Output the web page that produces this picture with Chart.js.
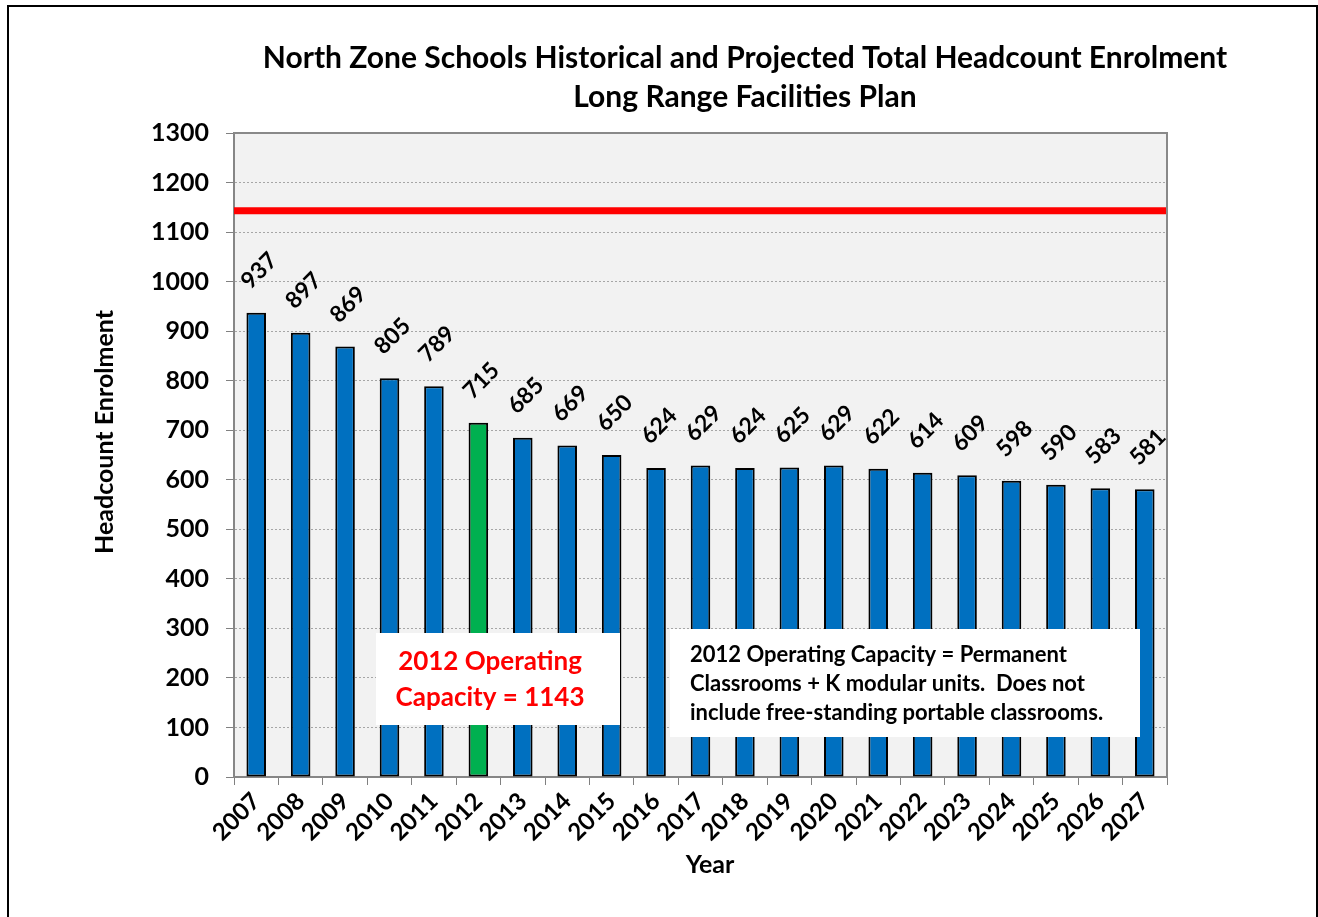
<!DOCTYPE html>
<html>
<head>
<meta charset="utf-8">
<script src="https://cdn.jsdelivr.net/npm/chart.js@4.4.1/dist/chart.umd.min.js"></script>
<style>
  body { margin: 0; background: #fff; }
  #wrap { width: 1318px; height: 917px; position: relative; }
</style>
</head>
<body>
<div id="wrap"><canvas id="chart" width="1318" height="917"></canvas></div>
<script>
const years = ["2007", "2008", "2009", "2010", "2011", "2012", "2013", "2014", "2015", "2016", "2017",
  "2018", "2019", "2020", "2021", "2022", "2023", "2024", "2025", "2026", "2027"];
const enrolment = [937, 897, 869, 805, 789, 715, 685, 669, 650, 624, 629,
  624, 625, 629, 622, 614, 609, 598, 590, 583, 581];
const capacity = 1143;
const highlightYear = "2012";
const titleLines = ["North Zone Schools Historical and Projected Total Headcount Enrolment", "Long Range Facilities Plan"];
const xTitle = "Year";
const yTitle = "Headcount Enrolment";
const capacityNote = ["2012 Operating", "Capacity = 1143"];
const capacityDef = ["2012 Operating Capacity = Permanent", "Classrooms + K modular units.  Does not", "include free-standing portable classrooms."];

const FONT = "Lato, 'Open Sans', sans-serif";
const chartDiv = document.getElementById("chart");

const barColors = years.map((y) => (y === highlightYear ? "#00b050" : "#0070c0"));

const decor = {
  id: "decor",
  beforeDraw: (chart) => {
    const { ctx, chartArea: a } = chart;
    ctx.save();
    ctx.fillStyle = "#f2f2f2";
    ctx.fillRect(a.left, a.top, a.right - a.left, a.bottom - a.top);
    ctx.restore();
  },
  afterDatasetsDraw: (chart) => {
    const { ctx, chartArea: a } = chart;
    ctx.save();
    // plot frame top/right
    ctx.strokeStyle = "#898989";
    ctx.lineWidth = 2;
    ctx.beginPath();
    ctx.moveTo(a.left, a.top);
    ctx.lineTo(a.right, a.top);
    ctx.lineTo(a.right, a.bottom);
    ctx.stroke();

    // value labels
    const meta = chart.getDatasetMeta(0);
    ctx.fillStyle = "#000";
    ctx.font = "bold 23px " + FONT;
    ctx.textAlign = "center";
    ctx.textBaseline = "middle";
    meta.data.forEach((bar, i) => {
      ctx.save();
      ctx.translate(bar.x + 3, bar.y - 42);
      ctx.rotate(-Math.PI / 4);
      ctx.fillText(String(enrolment[i]), 0, 0);
      ctx.restore();
    });

    // note boxes
    ctx.fillStyle = "#fff";
    ctx.fillRect(376, 633, 244, 92);
    ctx.fillRect(670, 629, 470, 108);
    ctx.fillStyle = "#ff0000";
    ctx.font = "bold 26px " + FONT;
    ctx.fillText(capacityNote[0], 490, 662);
    ctx.fillText(capacityNote[1], 490, 698);
    ctx.fillStyle = "#000";
    ctx.font = "bold 22px " + FONT;
    ctx.textAlign = "left";
    capacityDef.forEach((t, i) => ctx.fillText(t, 690, 655 + i * 29));
    ctx.restore();
  },
  afterDraw: (chart) => {
    const { ctx } = chart;
    ctx.save();
    ctx.fillStyle = "#000";
    ctx.textAlign = "center";
    ctx.textBaseline = "middle";
    ctx.font = "bold 30px " + FONT;
    ctx.fillText(titleLines[0], 745, 58);
    ctx.fillText(titleLines[1], 745, 97);
    // axis titles
    ctx.font = "bold 25px " + FONT;
    ctx.fillText(xTitle, 710, 865);
    ctx.save();
    ctx.translate(105, 432);
    ctx.rotate(-Math.PI / 2);
    ctx.fillText(yTitle, 0, 0);
    ctx.restore();
    // outer frame
    ctx.strokeStyle = "#000";
    ctx.lineWidth = 2;
    ctx.strokeRect(8, 6, 1309, 930);
    ctx.restore();
  },
};

new Chart(chartDiv, {
  type: "bar",
  data: {
    labels: years,
    datasets: [
      {
        data: enrolment,
        backgroundColor: barColors,
        borderColor: "#000",
        borderWidth: 2,
        borderSkipped: false,
        barPercentage: 0.44,
        categoryPercentage: 1,
        grouped: false,
        order: 2,
      },
      {
        type: "line",
        xAxisID: "xLine",
        data: [{ x: 0, y: capacity }, { x: 1, y: capacity }],
        borderColor: "#ff0000",
        borderWidth: 7,
        pointRadius: 0,
        order: 1,
      },
    ],
  },
  options: {
    responsive: false,
    animation: false,
    layout: {
      padding: { top: 133, right: 151, bottom: 0, left: 8 },
    },
    scales: {
      x: {
        offset: true,
        afterFit: (scale) => {
          scale.height = 140;
        },
        grid: {
          display: true,
          offset: true,
          drawOnChartArea: false,
          tickLength: 8,
          color: "#808080",
          lineWidth: 1,
        },
        border: { color: "#868686", width: 2 },
        ticks: {
          color: "#000",
          font: { family: FONT, size: 24, weight: "bold" },
          minRotation: 45,
          maxRotation: 45,
          padding: 2,
          autoSkip: false,
        },
      },
      xLine: {
        type: "linear",
        display: false,
        offset: false,
        min: 0,
        max: 1,
      },
      y: {
        min: 0,
        max: 1300,
        afterFit: (scale) => {
          scale.width = 226;
        },
        grid: {
          color: "#a6a6a6",
          tickColor: "#808080",
          tickBorderDash: [],
          tickLength: 8,
        },
        border: { color: "#868686", width: 2, dash: [2, 2] },
        ticks: {
          stepSize: 100,
          color: "#000",
          font: { family: FONT, size: 25, weight: "bold" },
          padding: 17,
          callback: (v) => String(v),
        },
      },
    },
    plugins: {
      legend: { display: false },
      title: { display: false },
      tooltip: { enabled: false },
    },
  },
  plugins: [decor],
});
</script>
</body>
</html>
